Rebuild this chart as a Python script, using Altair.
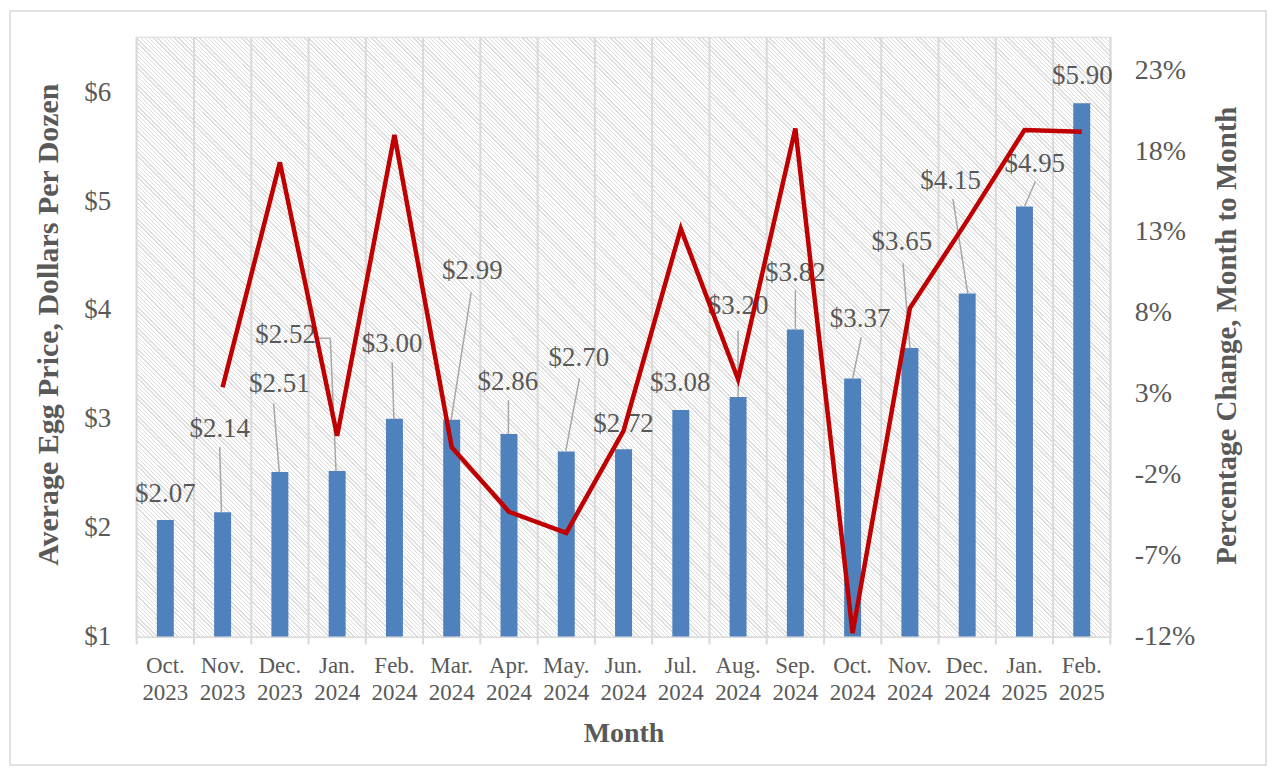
import altair as alt
import pandas as pd

# ---------------- data ----------------
months = ["Oct. 2023", "Nov. 2023", "Dec. 2023", "Jan. 2024", "Feb. 2024", "Mar. 2024",
          "Apr. 2024", "May. 2024", "Jun. 2024", "Jul. 2024", "Aug. 2024", "Sep. 2024",
          "Oct. 2024", "Nov. 2024", "Dec. 2024", "Jan. 2025", "Feb. 2025"]
prices = [2.07, 2.14, 2.51, 2.52, 3.00, 2.99, 2.86, 2.70, 2.72, 3.08, 3.20, 3.82,
          3.37, 3.65, 4.15, 4.95, 5.90]
pct_change = [None, 3.4, 17.3, 0.4, 19.0, -0.3, -4.3, -5.6, 0.7, 13.2, 3.9, 19.4,
              -11.8, 8.3, 13.7, 19.3, 19.2]

# data-label placement (x in category units, y in dollars)
label_x = [0.50, 1.45, 2.49, 2.60, 4.46, 5.86, 6.48, 7.72, 8.50, 9.49, 10.50, 11.50,
           12.63, 13.36, 14.21, 15.68, 16.51]
label_y = [2.31, 2.91, 3.32, 3.77, 3.69, 4.36, 3.34, 3.56, 2.95, 3.33, 4.04, 4.34,
           3.92, 4.62, 5.18, 5.34, 6.15]
# leader lines (x1, y1, x2, y2)
leader_x1 = [1.45, 2.39, 3.19, 3.38, 4.46, 5.84, 6.49, 7.73, 10.50, 11.50, 12.65, 13.38, 14.25, 15.69]
leader_y1 = [2.74, 3.14, 3.74, 3.74, 3.52, 4.16, 3.17, 3.37, 3.81, 4.18, 3.75, 4.43, 5.02, 5.18]
leader_x2 = [1.48, 2.49, 3.38, 3.48, 4.49, 5.49, 6.49, 7.49, 10.50, 11.50, 12.50, 13.50, 14.51, 15.50]
leader_y2 = [2.14, 2.51, 3.74, 2.52, 3.00, 2.99, 2.86, 2.70, 3.20, 3.82, 3.37, 3.65, 4.15, 4.95]

price_ticks = [1, 2, 3, 4, 5, 6]
pct_ticks = [-12, -7, -2, 3, 8, 13, 18, 23]

# ---------------- styling ----------------
FONT = "Liberation Serif"
TXT = "#595959"
GRID = "#d9d9d9"
W, H = 976, 600

df = pd.DataFrame({"month": months, "price": prices, "pct": pct_change,
                   "lx": label_x, "ly": label_y})
df_line = df[df["pct"].notna()]
df_lead = pd.DataFrame({"x1": leader_x1, "y1": leader_y1, "x2": leader_x2, "y2": leader_y2})
one = pd.DataFrame({"a": [0]})

band = alt.Scale(type="band", domain=months, paddingInner=0, paddingOuter=0)
pnt = alt.Scale(type="point", domain=months, padding=0.5)
yprice = alt.Scale(domain=[1, 6.5], nice=False, zero=False)
ypct = alt.Scale(domain=[-12, 25], nice=False, zero=False)
xq = alt.Scale(domain=[0, 17], nice=False, zero=False)

# diagonal hatch background built as a hard-stop linear gradient
period = 4.2 / 1576.0
HATCH = "#dcdcdc"
stops = []
t = 0.0
while t < 1.0:
    a = min(t, 1.0)
    b = min(t + 0.68 * period, 1.0)
    c = min(t + period, 1.0)
    stops += [alt.GradientStop(offset=a, color="#ffffff"),
              alt.GradientStop(offset=b, color="#ffffff"),
              alt.GradientStop(offset=b, color=HATCH),
              alt.GradientStop(offset=c, color=HATCH)]
    t += period
hatch = alt.LinearGradient(gradient="linear", x1=0, y1=1, x2=1.172, y2=0.279, stops=stops)

bg = alt.Chart(one).mark_rect(fill=hatch, stroke=None).encode(
    x=alt.value(0), x2=alt.value(W), y=alt.value(0), y2=alt.value(H))

border = alt.Chart(one).mark_rect(fillOpacity=0, stroke=GRID, strokeWidth=1.5).encode(
    x=alt.value(-127), x2=alt.value(W + 156), y=alt.value(-27), y2=alt.value(H + 129))

vgrid = alt.Chart(df).mark_rule(color=GRID, strokeWidth=2).encode(
    x=alt.X("month:N", scale=band, bandPosition=0, axis=None),
    y=alt.value(0), y2=alt.value(H + 8))

vgrid_end = alt.Chart(one).mark_rule(color=GRID, strokeWidth=2).encode(
    x=alt.value(W), y=alt.value(0), y2=alt.value(H + 8))

bars = alt.Chart(df).mark_bar(color="#4F81BD", size=17).encode(
    x=alt.X("month:N", scale=band,
            axis=alt.Axis(title="Month", labelExpr="split(datum.label, ' ')",
                          labelFont=FONT, labelFontSize=23, labelColor=TXT,
                          labelLineHeight=27, labelPadding=18, labelAngle=0,
                          ticks=False, grid=False, domainColor=GRID, domainWidth=2,
                          titleFont=FONT, titleFontSize=28, titleFontWeight="bold",
                          titleColor=TXT, titleX=W / 2, titleY=97,
                          titleBaseline="middle", titleAlign="center")),
    y=alt.Y("price:Q", scale=yprice,
            axis=alt.Axis(values=price_ticks, labelExpr="'$' + datum.value",
                          labelFont=FONT, labelFontSize=27, labelColor=TXT,
                          labelPadding=26, ticks=False, domain=False,
                          grid=True, gridColor=GRID, gridWidth=2,
                          title="Average Egg Price, Dollars Per Dozen",
                          titleFont=FONT, titleFontSize=30, titleFontWeight="bold",
                          titleColor=TXT, titleAngle=270, titleX=-88, titleY=287,
                          titleBaseline="middle", titleAlign="center")),
    y2=alt.datum(1))

leaders = alt.Chart(df_lead).mark_rule(color="#a6a6a6", strokeWidth=1.5).encode(
    x=alt.X("x1:Q", scale=xq, axis=None), x2="x2:Q",
    y=alt.Y("y1:Q", scale=yprice, axis=None), y2="y2:Q")

labels = alt.Chart(df).mark_text(font=FONT, fontSize=27, color=TXT,
                                 align="center", baseline="middle").encode(
    x=alt.X("lx:Q", scale=xq, axis=None),
    y=alt.Y("ly:Q", scale=yprice, axis=None),
    text=alt.Text("price:Q", format="$.2f"))

line = alt.Chart(df_line).mark_line(color="#C00000", strokeWidth=4.5).encode(
    x=alt.X("month:N", scale=pnt, axis=None),
    y=alt.Y("pct:Q", scale=ypct,
            axis=alt.Axis(orient="right", values=pct_ticks, labelExpr="datum.value + '%'",
                          labelFont=FONT, labelFontSize=28, labelColor=TXT,
                          labelPadding=24, ticks=False, domain=False, grid=False,
                          title="Percentage Change, Month to Month",
                          titleFont=FONT, titleFontSize=29, titleFontWeight="bold",
                          titleColor=TXT, titleAngle=270, titleX=116, titleY=298,
                          titleBaseline="middle", titleAlign="center")))

chart = alt.layer(bg, border, vgrid, vgrid_end, bars, leaders, labels, line).resolve_scale(
    x="independent", y="independent"
).properties(
    width=W, height=H, autosize="none",
    padding={"left": 129, "top": 29, "right": 158, "bottom": 131},
    background="white"
).configure_view(stroke=GRID, strokeWidth=2)

chart.save("out.html", embed_options={"renderer": "svg", "actions": False})
